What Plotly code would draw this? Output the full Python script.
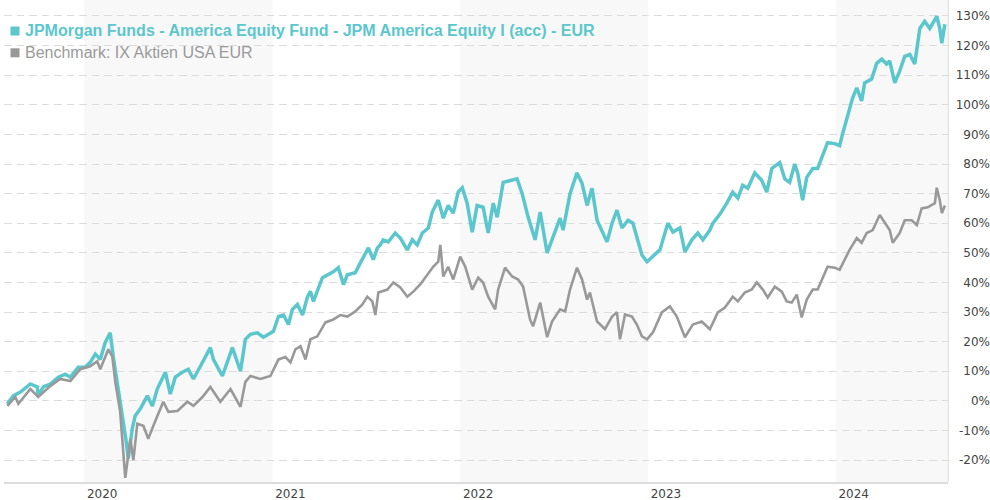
import pandas as pd
import plotly.graph_objects as go

# ---------------- data (decimal years, % performance) ----------------
fund_t = [2019.590, 2019.622, 2019.660, 2019.713, 2019.750, 2019.755, 2019.782, 2019.819, 2019.862, 2019.899,
          2019.926, 2019.968, 2020.005, 2020.032, 2020.059, 2020.085, 2020.112, 2020.138, 2020.154, 2020.176,
          2020.202, 2020.223, 2020.234, 2020.255, 2020.271, 2020.298, 2020.335, 2020.362, 2020.388, 2020.431,
          2020.457, 2020.484, 2020.521, 2020.553, 2020.580, 2020.617, 2020.670, 2020.686, 2020.734, 2020.787,
          2020.830, 2020.856, 2020.883, 2020.920, 2020.952, 2021.005, 2021.032, 2021.059, 2021.085, 2021.106,
          2021.133, 2021.160, 2021.186, 2021.202, 2021.218, 2021.266, 2021.293, 2021.324, 2021.351, 2021.378,
          2021.399, 2021.441, 2021.468, 2021.511, 2021.537, 2021.559, 2021.574, 2021.590, 2021.617, 2021.654,
          2021.681, 2021.718, 2021.745, 2021.771, 2021.798, 2021.830, 2021.851, 2021.883, 2021.910, 2021.936,
          2021.963, 2021.989, 2022.011, 2022.037, 2022.064, 2022.090, 2022.122, 2022.149, 2022.176, 2022.197,
          2022.229, 2022.266, 2022.303, 2022.330, 2022.362, 2022.399, 2022.426, 2022.463, 2022.489, 2022.532,
          2022.548, 2022.585, 2022.622, 2022.649, 2022.676, 2022.702, 2022.729, 2022.782, 2022.809, 2022.835,
          2022.862, 2022.894, 2022.920, 2022.941, 2022.968, 2022.995, 2023.027, 2023.064, 2023.106, 2023.133,
          2023.170, 2023.197, 2023.234, 2023.266, 2023.293, 2023.330, 2023.346, 2023.383, 2023.420, 2023.452,
          2023.479, 2023.505, 2023.532, 2023.569, 2023.606, 2023.633, 2023.660, 2023.702, 2023.729, 2023.755,
          2023.782, 2023.798, 2023.824, 2023.846, 2023.878, 2023.904, 2023.926, 2023.957, 2023.995, 2024.021,
          2024.037, 2024.064, 2024.090, 2024.112, 2024.138, 2024.154, 2024.191, 2024.218, 2024.245, 2024.271,
          2024.287, 2024.314, 2024.340, 2024.367, 2024.394, 2024.420, 2024.447, 2024.473, 2024.500, 2024.537,
          2024.553, 2024.564, 2024.580]
fund_pct = [-1.0, 1.7, 3.0, 5.7, 4.7, 1.7, 4.7, 5.7, 8.0, 9.0,
            8.0, 11.4, 11.4, 13.0, 15.8, 14.0, 19.8, 23.0, 15.0, 6.4,
            -5.0, -13.8, -19.5, -9.4, -5.0, -2.7, 1.7, -1.7, 4.0, 9.7,
            2.3, 8.0, 9.7, 10.7, 7.4, 11.7, 18.0, 14.0, 8.4, 18.0,
            10.0, 20.8, 22.5, 23.0, 21.5, 23.5, 28.5, 29.0, 25.8, 30.9,
            32.6, 29.0, 35.0, 37.0, 33.6, 41.6, 42.6, 43.6, 45.0, 39.3,
            42.6, 43.3, 46.6, 51.7, 47.7, 51.7, 52.7, 54.4, 53.7, 56.7,
            55.0, 51.0, 54.4, 52.7, 56.7, 58.4, 63.8, 67.8, 61.7, 66.0,
            63.4, 70.5, 72.0, 66.8, 57.0, 66.0, 65.4, 56.7, 66.8, 62.0,
            73.8, 74.5, 75.0, 70.0, 62.0, 54.4, 63.8, 50.0, 54.4, 61.7,
            57.7, 70.0, 77.0, 73.5, 66.0, 71.8, 61.0, 53.7, 60.0, 64.4,
            58.4, 61.0, 60.0, 55.4, 49.3, 47.0, 48.7, 51.0, 60.0, 57.0,
            58.4, 50.3, 54.4, 56.7, 54.4, 57.7, 60.0, 63.0, 66.8, 70.5,
            68.5, 72.8, 71.8, 77.0, 74.5, 70.5, 78.5, 80.5, 75.0, 73.8,
            80.0, 76.8, 67.8, 75.5, 78.5, 78.5, 82.2, 87.2, 86.9, 86.2,
            90.2, 96.3, 102.3, 105.7, 101.3, 107.4, 108.7, 114.0, 115.4, 113.8,
            114.8, 107.4, 111.4, 116.4, 117.0, 113.8, 125.8, 128.2, 125.8, 129.9,
            125.8, 120.8, 127.2]

bench_t = [2019.590, 2019.633, 2019.649, 2019.713, 2019.755, 2019.819, 2019.872, 2019.926, 2019.979, 2020.032,
           2020.069, 2020.085, 2020.128, 2020.149, 2020.165, 2020.191, 2020.218, 2020.245, 2020.261, 2020.282,
           2020.314, 2020.340, 2020.378, 2020.420, 2020.447, 2020.495, 2020.548, 2020.580, 2020.628, 2020.670,
           2020.723, 2020.777, 2020.830, 2020.856, 2020.883, 2020.936, 2020.989, 2021.032, 2021.069, 2021.096,
           2021.122, 2021.149, 2021.176, 2021.202, 2021.239, 2021.282, 2021.324, 2021.362, 2021.399, 2021.441,
           2021.479, 2021.505, 2021.532, 2021.548, 2021.564, 2021.612, 2021.644, 2021.681, 2021.718, 2021.750,
           2021.787, 2021.824, 2021.856, 2021.883, 2021.894, 2021.910, 2021.936, 2021.963, 2022.000, 2022.027,
           2022.064, 2022.096, 2022.122, 2022.149, 2022.186, 2022.202, 2022.239, 2022.277, 2022.309, 2022.335,
           2022.372, 2022.388, 2022.426, 2022.463, 2022.489, 2022.532, 2022.559, 2022.585, 2022.622, 2022.649,
           2022.676, 2022.691, 2022.729, 2022.771, 2022.809, 2022.835, 2022.851, 2022.878, 2022.915, 2022.941,
           2022.968, 2022.995, 2023.027, 2023.074, 2023.117, 2023.154, 2023.197, 2023.239, 2023.287, 2023.330,
           2023.372, 2023.410, 2023.452, 2023.479, 2023.516, 2023.553, 2023.580, 2023.612, 2023.638, 2023.676,
           2023.713, 2023.739, 2023.766, 2023.793, 2023.819, 2023.846, 2023.878, 2023.904, 2023.926, 2023.957,
           2023.995, 2024.021, 2024.048, 2024.074, 2024.112, 2024.138, 2024.165, 2024.197, 2024.234, 2024.261,
           2024.287, 2024.303, 2024.340, 2024.367, 2024.404, 2024.431, 2024.457, 2024.489, 2024.527, 2024.537,
           2024.553, 2024.564, 2024.580]
bench_pct = [-1.7, 1.3, -1.0, 4.0, 1.3, 5.0, 7.4, 6.7, 10.7, 11.7,
             13.4, 10.7, 17.4, 15.0, 6.4, -3.7, -26.0, -12.8, -20.0, -7.7,
             -8.4, -12.8, -6.7, -0.3, -3.7, -3.4, -0.3, -1.7, 1.3, 4.7,
             -0.3, 4.0, -2.0, 6.4, 8.4, 7.4, 8.4, 14.0, 14.8, 13.0,
             17.4, 18.5, 14.0, 20.8, 21.8, 26.5, 27.5, 29.0, 28.5, 30.2,
             32.6, 35.2, 33.6, 29.0, 36.6, 37.6, 40.0, 38.3, 35.2, 36.9,
             39.3, 42.6, 45.3, 47.0, 52.7, 42.0, 45.3, 41.0, 48.7, 45.3,
             37.6, 41.6, 40.0, 35.2, 30.9, 37.6, 45.0, 42.0, 41.0, 38.6,
             27.5, 25.2, 33.2, 21.5, 26.8, 30.9, 30.2, 37.6, 45.0, 41.0,
             34.2, 36.6, 26.8, 24.2, 28.5, 29.9, 20.8, 29.2, 28.5, 25.8,
             21.8, 20.8, 23.2, 29.9, 31.9, 28.5, 21.5, 25.8, 26.8, 24.2,
             29.9, 31.5, 35.2, 33.6, 36.6, 37.6, 40.0, 37.6, 34.9, 38.6,
             36.9, 33.6, 33.2, 35.9, 28.2, 34.2, 37.6, 37.6, 41.0, 45.3,
             45.0, 44.3, 47.7, 51.0, 55.0, 53.4, 56.7, 57.7, 62.8, 60.4,
             57.7, 53.4, 56.7, 61.0, 61.0, 59.4, 65.0, 65.4, 66.8, 72.0,
             67.8, 63.4, 66.0]

tick_years = [2020, 2021, 2022, 2023, 2024]
band_years = [2020, 2022, 2024]
y_ticks = [-20, -10, 0, 10, 20, 30, 40, 50, 60, 70, 80, 90, 100, 110, 120, 130]

fund_name = "JPMorgan Funds - America Equity Fund - JPM America Equity I (acc) - EUR"
bench_name = "Benchmark: IX Aktien USA EUR"

TEAL = "#5BC7CD"
GRAY = "#999999"


def dec_to_date(t):
    y = int(t)
    start = pd.Timestamp(y, 1, 1)
    end = pd.Timestamp(y + 1, 1, 1)
    return start + (end - start) * (t - y)


fund_x = [dec_to_date(t) for t in fund_t]
bench_x = [dec_to_date(t) for t in bench_t]
x_start = pd.Timestamp("2019-07-29")
x_end = pd.Timestamp("2024-08-07")

fig = go.Figure()
fig.add_trace(go.Scatter(x=fund_x, y=fund_pct, mode="lines", name=fund_name,
                         line=dict(color=TEAL, width=3.5), showlegend=False, hoverinfo="skip"))
fig.add_trace(go.Scatter(x=bench_x, y=bench_pct, mode="lines", name=bench_name,
                         line=dict(color=GRAY, width=2.6), showlegend=False, hoverinfo="skip"))

shapes = []
for yr in band_years:
    x1 = min(pd.Timestamp(yr + 1, 1, 1), x_end)
    shapes.append(dict(type="rect", xref="x", yref="paper", x0=pd.Timestamp(yr, 1, 1), x1=x1,
                       y0=0, y1=1, fillcolor="#f8f8f8", line=dict(width=0), layer="below"))
# right border of plot area
shapes.append(dict(type="line", xref="x domain", yref="paper", x0=1, x1=1, y0=0, y1=1,
                   line=dict(color="#dddddd", width=1)))

W, H = 990, 500
ML, MR, MT, MB = 4, 0, 0, 18
PW = W - ML - MR
PH = H - MT - MB


def px_x(p):
    return (p - ML) / PW


def px_y(p):
    return 1 - (p - MT) / PH


# legend squares
shapes.append(dict(type="rect", xref="paper", yref="paper", x0=px_x(10.5), x1=px_x(19.5),
                   y0=px_y(35.5), y1=px_y(26.5), fillcolor=TEAL, line=dict(width=0)))
shapes.append(dict(type="rect", xref="paper", yref="paper", x0=px_x(10.5), x1=px_x(19.5),
                   y0=px_y(57.3), y1=px_y(48.3), fillcolor=GRAY, line=dict(width=0)))

annotations = [
    dict(xref="paper", yref="paper", x=px_x(23), y=px_y(30), xanchor="left", yanchor="middle",
         text="<b>" + fund_name + "</b>", showarrow=False,
         font=dict(family="Liberation Sans, Arial", size=16, color=TEAL)),
    dict(xref="paper", yref="paper", x=px_x(23), y=px_y(52), xanchor="left", yanchor="middle",
         text=bench_name, showarrow=False,
         font=dict(family="Liberation Sans, Arial", size=16, color="#9a9a9a")),
]

fig.update_layout(
    width=W, height=H,
    margin=dict(l=ML, r=MR, t=MT, b=MB, autoexpand=False),
    paper_bgcolor="white", plot_bgcolor="white",
    shapes=shapes, annotations=annotations,
    showlegend=False,
    xaxis=dict(
        type="date", range=[x_start, x_end], domain=[0, (948.3 - ML) / PW],
        showgrid=False, zeroline=False,
        showline=True, linecolor="#dcdcdc", linewidth=2,
        tickvals=[pd.Timestamp(y, 1, 1) for y in tick_years],
        ticktext=[str(y) for y in tick_years],
        ticks="", ticklabelshift=18,
        tickfont=dict(family="DejaVu Sans, Verdana", size=12, color="#444444"),
    ),
    yaxis=dict(
        range=[-27.4, 135.4], anchor="free", position=1, side="left",
        tickvals=y_ticks, ticktext=[f"{v}%" for v in y_ticks],
        showgrid=True, gridcolor="#dcdcdc", gridwidth=1, griddash="7.5px,5px",
        zeroline=False, showline=False, ticks="",
        tickfont=dict(family="DejaVu Sans, Verdana", size=12, color="#444444"),
    ),
)

fig.write_html("out.html", config={"displayModeBar": False},
               post_script="document.body.style.margin='0';document.body.style.padding='0';")
